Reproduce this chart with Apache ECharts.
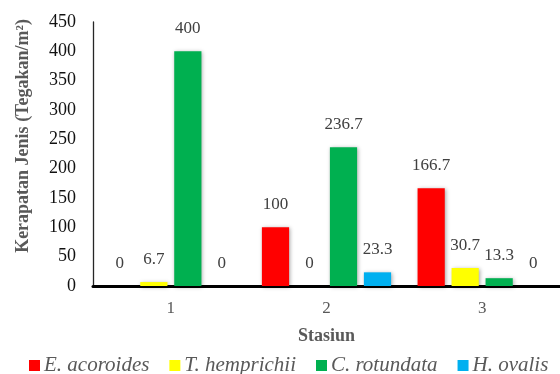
<!DOCTYPE html>
<html>
<head>
<meta charset="utf-8">
<script src="https://cdn.jsdelivr.net/npm/echarts@6/dist/echarts.min.js"></script>
<style>
  html, body { margin: 0; padding: 0; background: #fff; }
  #chart { width: 560px; height: 374px; }
</style>
</head>
<body>
<div id="chart"></div>
<script>
// Stations and seagrass density per species (stands per m²)
const stations = ['1', '2', '3'];
const speciesNames = ['E. acoroides', 'T. hemprichii', 'C. rotundata', 'H. ovalis'];
const eAcoroides = [0, 100, 166.7];
const tHemprichii = [6.7, 0, 30.7];
const cRotundata = [400, 236.7, 13.3];
const hOvalis = [0, 23.3, 0];
const speciesColors = ['#FF0000', '#FFFF00', '#00B050', '#00B0F0'];

const seriesValues = [eAcoroides, tHemprichii, cRotundata, hOvalis];
const serif = '"Liberation Serif", "Times New Roman", serif';

const chart = echarts.init(document.getElementById('chart'));

chart.setOption({
  animation: false,
  grid: { left: 93, right: -12, top: 22, bottom: 88, containLabel: false },
  legend: {
    left: 24,
    top: 350,
    icon: 'rect',
    itemWidth: 11,
    itemHeight: 11,
    itemGap: 20,
    textStyle: { fontFamily: serif, fontStyle: 'italic', fontSize: 21, color: '#595959', padding: [0, 0, 0, -1] },
    data: speciesNames
  },
  xAxis: {
    type: 'category',
    data: stations,
    name: 'Stasiun',
    nameLocation: 'middle',
    nameGap: 41,
    nameTextStyle: { fontFamily: serif, fontWeight: 'bold', fontSize: 18, color: '#595959', verticalAlign: 'top' },
    axisLine: { lineStyle: { color: '#000', width: 3 } },
    axisTick: { show: false },
    axisLabel: { fontFamily: serif, fontSize: 17, color: '#595959', margin: 14 }
  },
  yAxis: {
    type: 'value',
    min: 0,
    max: 450,
    interval: 50,
    axisLine: { show: true, lineStyle: { color: '#262626', width: 1.3 } },
    axisTick: { show: false },
    splitLine: { show: false },
    axisLabel: { fontFamily: serif, fontSize: 18, color: '#111', margin: 17 }
  },
  graphic: [{
    type: 'text',
    x: 23,
    y: 136,
    rotation: Math.PI / 2,
    style: {
      text: 'Kerapatan Jenis (Tegakan/m²)',
      fontFamily: serif,
      fontWeight: 'bold',
      fontSize: 18,
      fill: '#595959',
      align: 'center',
      verticalAlign: 'middle'
    }
  }],
  series: speciesNames.map((name, i) => ({
    name: name,
    type: 'bar',
    data: seriesValues[i],
    barCategoryGap: '17%',
    barGap: '25%',
    itemStyle: {
      color: speciesColors[i],
      shadowBlur: 4,
      shadowColor: 'rgba(0,0,0,0.35)',
      shadowOffsetX: 1,
      shadowOffsetY: 1
    },
    label: {
      show: true,
      position: 'top',
      distance: 14,
      fontFamily: serif,
      fontSize: 17,
      color: '#404040'
    }
  }))
});
</script>
</body>
</html>
